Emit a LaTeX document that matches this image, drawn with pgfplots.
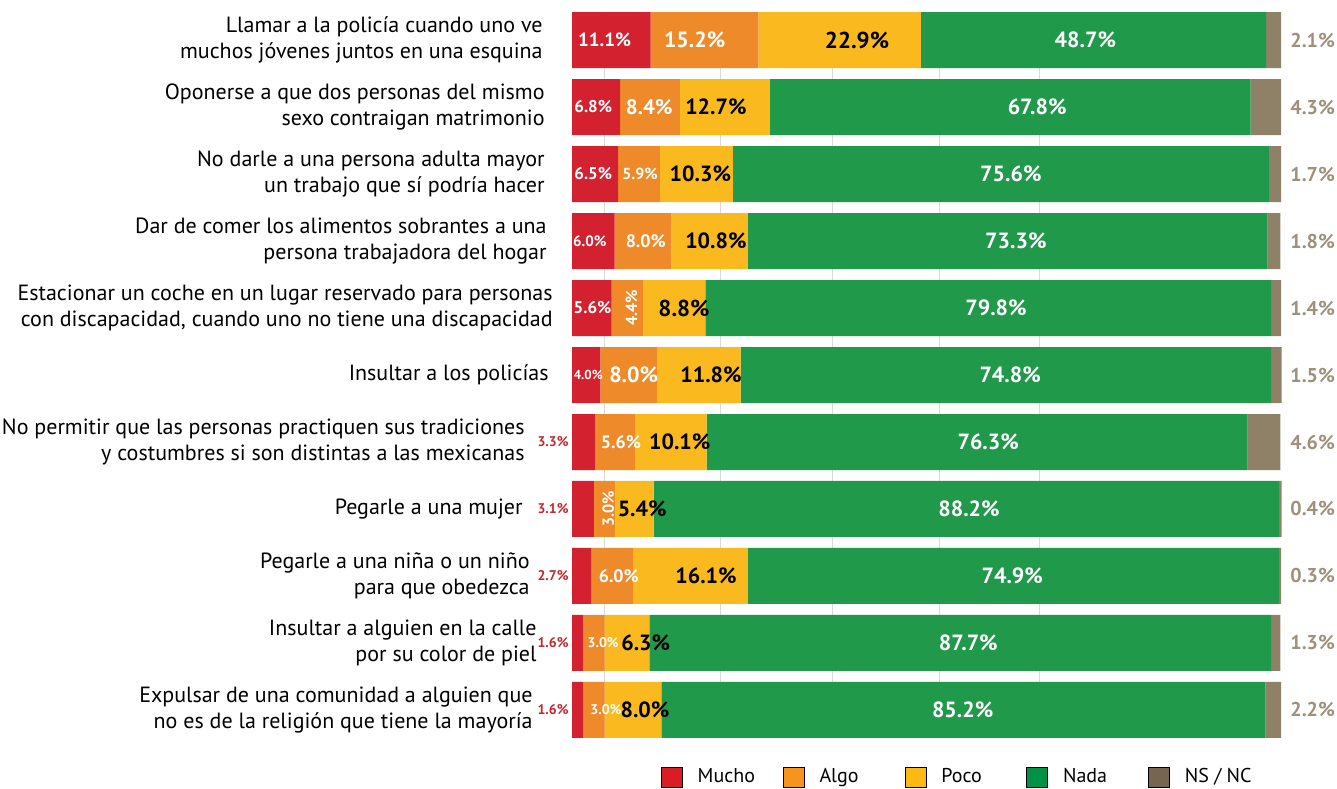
\documentclass[border=0pt]{standalone}
\usepackage{fontspec}
\setmainfont{PT Sans}
\usepackage{pgfplots}
\pgfplotsset{compat=1.18}

\definecolor{mucho}{HTML}{D42130}
\definecolor{algo}{HTML}{EE8A2A}
\definecolor{poco}{HTML}{F9B91F}
\definecolor{nada}{HTML}{21994A}
\definecolor{nsnc}{HTML}{8F8068}
\definecolor{legmucho}{HTML}{DA1C24}
\definecolor{legalgo}{HTML}{F7941D}
\definecolor{legpoco}{HTML}{FDB913}
\definecolor{legnada}{HTML}{009245}
\definecolor{legnsnc}{HTML}{76664F}
\definecolor{nslbl}{HTML}{9E907A}
\definecolor{redlbl}{HTML}{C1272D}

% value label inside a bar: colour, size, x, row, text
\newcommand{\lbl}[5]{\node[font=\bfseries\fontsize{#2}{#2}\selectfont, text=#1, inner sep=0pt] at (axis cs:#3,#4) {#5};}
\newcommand{\rlbl}[5]{\node[rotate=90, font=\bfseries\fontsize{#2}{#2}\selectfont, text=#1, inner sep=0pt] at (axis cs:#3,#4) {#5};}
% small red Mucho label left of the bar
\newcommand{\outlbl}[2]{\node[anchor=east, xshift=-1.5pt, font=\bfseries\fontsize{7}{7}\selectfont, text=redlbl, inner sep=0pt] at (axis cs:0,#1) {#2};}
% NS/NC label right of the bar
\newcommand{\nslbl}[2]{\node[anchor=west, xshift=4.5pt, font=\bfseries\fontsize{10}{10}\selectfont, text=nslbl, inner sep=0pt] at (axis cs:100,#1) {#2};}
% category text
\newcommand{\cat}[3]{\node[anchor=east, align=right, xshift=#2, font=\fontsize{11}{13}\selectfont, inner sep=0pt] at (axis cs:0,#1) {#3};}

\newcommand{\alllabels}{%
% Mucho
\lbl{white}{9.5}{4.6}{0}{11.1\%}
\lbl{white}{8.5}{3.0}{1}{6.8\%}
\lbl{white}{8.5}{3.0}{2}{6.5\%}
\lbl{white}{7.5}{2.5}{3}{6.0\%}
\lbl{white}{8.5}{2.9}{4}{5.6\%}
\lbl{white}{6.5}{2.3}{5}{4.0\%}
\outlbl{6}{3.3\%}
\outlbl{7}{3.1\%}
\outlbl{8}{2.7\%}
\outlbl{9}{1.6\%}
\outlbl{10}{1.6\%}
% Algo
\lbl{white}{11}{17.3}{0}{15.2\%}
\lbl{white}{10.5}{10.9}{1}{8.4\%}
\lbl{white}{8}{9.6}{2}{5.9\%}
\lbl{white}{9}{10.4}{3}{8.0\%}
\rlbl{white}{8}{8.4}{4}{4.4\%}
\lbl{white}{11}{8.7}{5}{8.0\%}
\lbl{white}{9}{6.9}{6}{5.6\%}
\rlbl{white}{8}{5.1}{7}{3.0\%}
\lbl{white}{9}{6.6}{8}{6.0\%}
\lbl{white}{7}{4.4}{9}{3.0\%}
\lbl{white}{7}{4.8}{10}{3.0\%}
% Poco
\lbl{black}{11.5}{40.2}{0}{22.9\%}
\lbl{black}{11}{20.3}{1}{12.7\%}
\lbl{black}{11}{18.1}{2}{10.3\%}
\lbl{black}{11}{20.3}{3}{10.8\%}
\lbl{black}{11.5}{15.8}{4}{8.8\%}
\lbl{black}{11}{19.6}{5}{11.8\%}
\lbl{black}{11}{15.2}{6}{10.1\%}
\lbl{black}{11}{9.9}{7}{5.4\%}
\lbl{black}{11}{18.9}{8}{16.1\%}
\lbl{black}{11}{10.4}{9}{6.3\%}
\lbl{black}{11}{10.3}{10}{8.0\%}
% Nada
\lbl{white}{11}{72.4}{0}{48.7\%}
\lbl{white}{11}{65.6}{1}{67.8\%}
\lbl{white}{11}{61.9}{2}{75.6\%}
\lbl{white}{11}{62.6}{3}{73.3\%}
\lbl{white}{11}{59.8}{4}{79.8\%}
\lbl{white}{11}{61.8}{5}{74.8\%}
\lbl{white}{11}{58.7}{6}{76.3\%}
\lbl{white}{11}{56.0}{7}{88.2\%}
\lbl{white}{11}{62.1}{8}{74.9\%}
\lbl{white}{11}{55.9}{9}{87.7\%}
\lbl{white}{11}{55.1}{10}{85.2\%}
% NS/NC
\nslbl{0}{2.1\%}
\nslbl{1}{4.3\%}
\nslbl{2}{1.7\%}
\nslbl{3}{1.8\%}
\nslbl{4}{1.4\%}
\nslbl{5}{1.5\%}
\nslbl{6}{4.6\%}
\nslbl{7}{0.4\%}
\nslbl{8}{0.3\%}
\nslbl{9}{1.3\%}
\nslbl{10}{2.2\%}
% categories
\cat{0}{-14.5pt}{Llamar a la policía cuando uno ve\\muchos jóvenes juntos en una esquina}
\cat{1}{-13.5pt}{Oponerse a que dos personas del mismo\\sexo contraigan matrimonio}
\cat{2}{-13.5pt}{No darle a una persona adulta mayor\\un trabajo que sí podría hacer}
\cat{3}{-12.5pt}{Dar de comer los alimentos sobrantes a una\\persona trabajadora del hogar}
\cat{4}{-9.5pt}{Estacionar un coche en un lugar reservado para personas\\con discapacidad, cuando uno no tiene una discapacidad}
\cat{5}{-11.5pt}{Insultar a los policías}
\cat{6}{-23.5pt}{No permitir que las personas practiquen sus tradiciones\\y costumbres si son distintas a las mexicanas}
\cat{7}{-24.5pt}{Pegarle a una mujer}
\cat{8}{-21pt}{Pegarle a una niña o un niño\\para que obedezca}
\cat{9}{-17.5pt}{Insultar a alguien en la calle\\por su color de piel}
\cat{10}{-19.5pt}{Expulsar de una comunidad a alguien que\\no es de la religión que tiene la mayoría}
}

\begin{document}
\begin{tikzpicture}
\path[use as bounding box] (0,0) rectangle (668.5pt,394pt);
\begin{axis}[
  at={(286pt,24.95pt)}, anchor=south west,
  scale only axis, width=354.5pt, height=363.1pt,
  xbar stacked, bar width=28pt,
  xmin=0, xmax=100, ymin=-0.42, ymax=10.42, y dir=reverse,
  ytick=\empty, xtick={4.5,21,36.7,51.8,65.9}, xticklabels={},
  xmajorgrids, grid style={gray!30, line width=0.4pt},
  axis line style={draw=none}, major tick length=0pt,
  clip=false,
  legend columns=5,
  legend style={at={(0.545,-0.0536)}, anchor=center, draw=none,
    font=\fontsize{10}{12}\selectfont,
    /tikz/every even column/.append style={column sep=7pt}},
  legend image code/.code={\fill[#1] (0pt,-5pt) rectangle (10.5pt,5pt);},
  after end axis/.code={\alllabels},
]
\addplot[fill=mucho, draw=none, forget plot] coordinates {
  (11.1,0) (6.8,1) (6.5,2) (6.0,3) (5.6,4) (4.0,5) (3.3,6) (3.1,7) (2.7,8) (1.6,9) (1.6,10)};
\addplot[fill=algo, draw=none, forget plot] coordinates {
  (15.2,0) (8.4,1) (5.9,2) (8.0,3) (4.4,4) (8.0,5) (5.6,6) (3.0,7) (6.0,8) (3.0,9) (3.0,10)};
\addplot[fill=poco, draw=none, forget plot] coordinates {
  (22.9,0) (12.7,1) (10.3,2) (10.8,3) (8.8,4) (11.8,5) (10.1,6) (5.4,7) (16.1,8) (6.3,9) (8.0,10)};
\addplot[fill=nada, draw=none, forget plot] coordinates {
  (48.7,0) (67.8,1) (75.6,2) (73.3,3) (79.8,4) (74.8,5) (76.3,6) (88.2,7) (74.9,8) (87.7,9) (85.2,10)};
\addplot[fill=nsnc, draw=none, forget plot] coordinates {
  (2.1,0) (4.3,1) (1.7,2) (1.8,3) (1.4,4) (1.5,5) (4.6,6) (0.4,7) (0.3,8) (1.3,9) (2.2,10)};

\addlegendimage{fill=legmucho}\addlegendentry{\makebox[39pt][l]{\hspace*{5.5pt}Mucho}}
\addlegendimage{fill=legalgo}\addlegendentry{\makebox[39pt][l]{\hspace*{5.5pt}Algo}}
\addlegendimage{fill=legpoco}\addlegendentry{\makebox[39pt][l]{\hspace*{5.5pt}Poco}}
\addlegendimage{fill=legnada}\addlegendentry{\makebox[39pt][l]{\hspace*{5.5pt}Nada}}
\addlegendimage{fill=legnsnc}\addlegendentry{\makebox[39pt][l]{\hspace*{5.5pt}NS / NC}}
\end{axis}
\end{tikzpicture}
\end{document}
